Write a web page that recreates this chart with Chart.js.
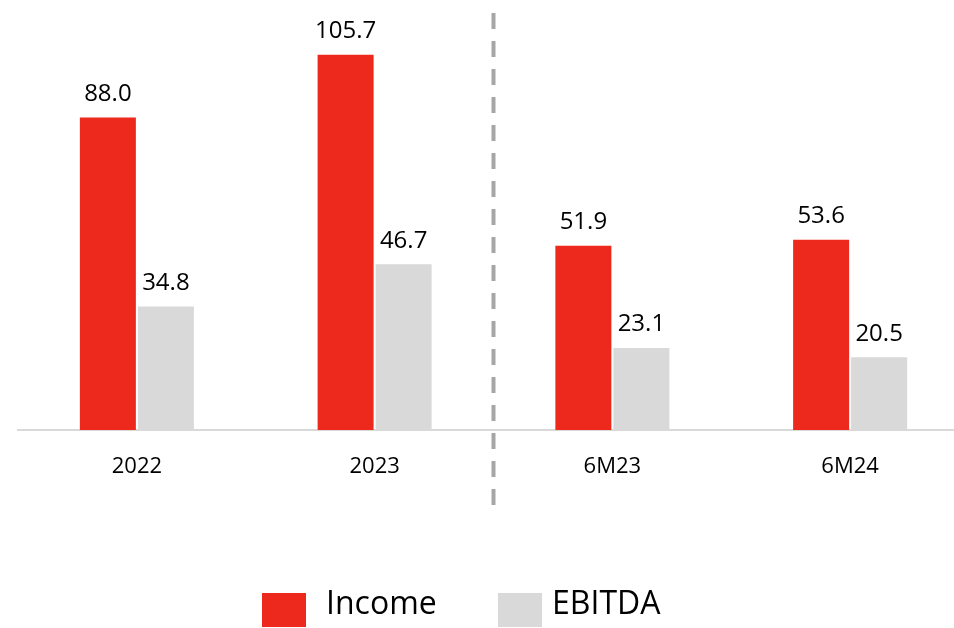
<!DOCTYPE html>
<html>
<head>
<meta charset="utf-8">
<script src="https://cdn.jsdelivr.net/npm/chart.js@4/dist/chart.umd.min.js"></script>
<style>
  html, body { margin: 0; padding: 0; background: #ffffff; overflow: hidden; width: 954px; height: 628px; }
  #wrap { position: absolute; left: 0; top: 0; width: 970px; height: 628px; }
  #legend { position: absolute; left: 0; top: 0; width: 954px; height: 628px; pointer-events: none;
            font-family: "Open Sans", sans-serif; font-size: 32px; color: #000; }
  .lg-box { position: absolute; width: 44px; height: 34px; top: 593px; }
  .lg-text { position: absolute; top: 580px; line-height: 44px; white-space: nowrap; }
</style>
</head>
<body>
<div id="wrap"><canvas id="chart" width="970" height="628"></canvas></div>
<div id="legend"></div>
<script>
// Periods shown on the x axis
const categories = ["2022", "2023", "6M23", "6M24"];
// Series values (millions)
const incomeValues = [88.0, 105.7, 51.9, 53.6];
const ebitdaValues = [34.8, 46.7, 23.1, 20.5];
const seriesNames = ["Income", "EBITDA"];

const RED = "#ED291E";
const GREY = "#D9D9D9";
const FONT = "'Open Sans', sans-serif";

// Value labels above every bar
const valueLabels = {
  id: "valueLabels",
  afterDatasetsDraw(chart) {
    const ctx = chart.ctx;
    ctx.save();
    ctx.font = "24px " + FONT;
    ctx.fillStyle = "#000000";
    ctx.textAlign = "center";
    ctx.textBaseline = "alphabetic";
    chart.data.datasets.forEach((ds, i) => {
      chart.getDatasetMeta(i).data.forEach((bar, j) => {
        ctx.fillText(ds.data[j].toFixed(1), bar.x, bar.y - 16.5);
      });
    });
    ctx.restore();
  }
};

// Dashed separator between the annual and the half-year periods
const periodDivider = {
  id: "periodDivider",
  afterDraw(chart) {
    const x = chart.scales.x;
    const xPos = (x.getPixelForValue(1) + x.getPixelForValue(2)) / 2;
    const ctx = chart.ctx;
    ctx.save();
    ctx.strokeStyle = "#A6A6A6";
    ctx.lineWidth = 4;
    ctx.setLineDash([16, 12]);
    ctx.beginPath();
    ctx.moveTo(xPos, 13);
    ctx.lineTo(xPos, 505);
    ctx.stroke();
    ctx.restore();
  }
};

const chart = new Chart(document.getElementById("chart"), {
  type: "bar",
  data: {
    labels: categories,
    datasets: [
      { label: seriesNames[0], data: incomeValues, backgroundColor: RED },
      { label: seriesNames[1], data: ebitdaValues, backgroundColor: GREY }
    ]
  },
  options: {
    responsive: false,
    animation: false,
    devicePixelRatio: 1,
    layout: { padding: { left: 18, right: 1, top: 4, bottom: 123.6 } },
    datasets: { bar: { categoryPercentage: 0.488, barPercentage: 0.9655 } },
    plugins: { legend: { display: false }, tooltip: { enabled: false } },
    scales: {
      x: {
        grid: { display: false, drawTicks: false },
        border: { display: true, color: "#D9D9D9", width: 2 },
        ticks: { color: "#000000", font: { family: FONT, size: 22 }, padding: 24 }
      },
      y: { display: false, min: 0, max: 120 }
    }
  },
  plugins: [valueLabels, periodDivider]
});

// Legend built from the chart's datasets
const legend = document.getElementById("legend");
const legendX = [[262, 326], [498, 552]];
chart.data.datasets.forEach((ds, i) => {
  const box = document.createElement("div");
  box.className = "lg-box";
  box.style.left = legendX[i][0] + "px";
  box.style.background = ds.backgroundColor;
  const txt = document.createElement("div");
  txt.className = "lg-text";
  txt.style.left = legendX[i][1] + "px";
  txt.textContent = ds.label;
  legend.appendChild(box);
  legend.appendChild(txt);
});
</script>
</body>
</html>
